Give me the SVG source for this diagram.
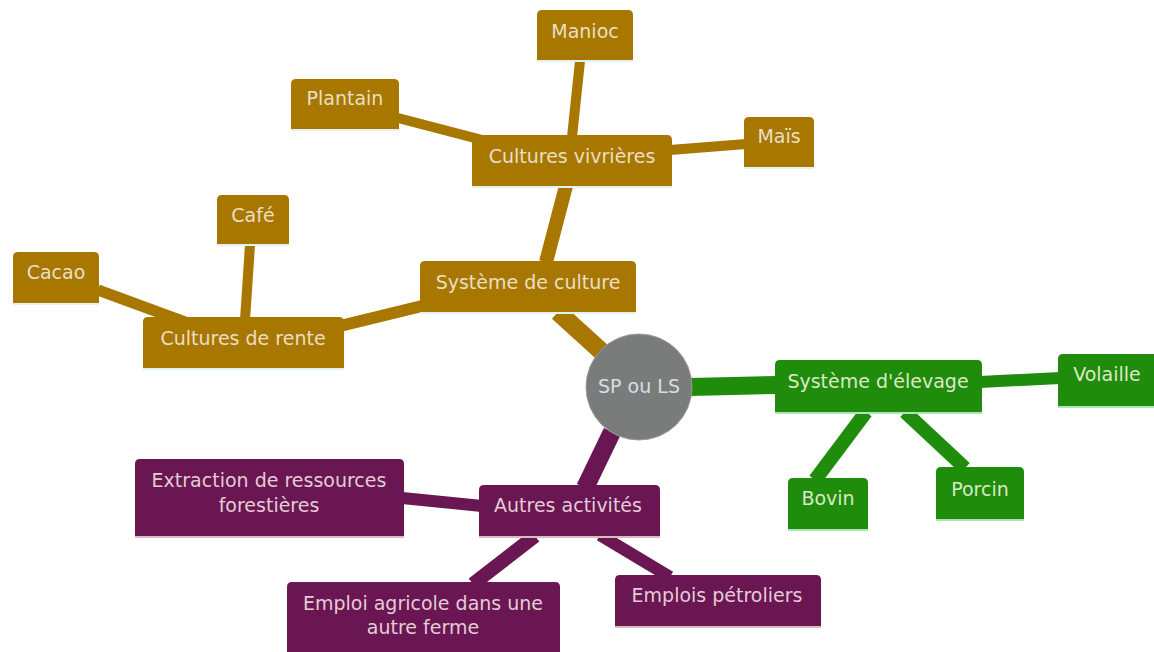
<svg xmlns="http://www.w3.org/2000/svg" width="1154" height="652" viewBox="0 0 1154 652">
<style>
.g{fill:#A87700}.v{fill:#1F8C0B}.p{fill:#6A1652}
.gs{fill:#E2F2F0}.vs{fill:#A8E8B4}.ps{fill:#D8BCC0}
.cg{stroke:#A87700;stroke-linecap:butt}.cv{stroke:#1F8C0B}.cp{stroke:#6A1652}
text{font-family:"DejaVu Sans",Verdana,sans-serif;font-size:19px;text-anchor:middle}
.tg{fill:#EADFC4}.tv{fill:#DDE8C4}.tp{fill:#E4CCD6}
</style>
<rect width="1154" height="652" fill="#ffffff"/>
<g id="connectors" fill="none">
<line class="cg" x1="602" y1="352" x2="558" y2="312" stroke-width="18"/>
<line class="cv" x1="690" y1="387" x2="778" y2="385" stroke-width="18"/>
<line class="cp" x1="612" y1="432" x2="585" y2="488" stroke-width="18"/>
<line class="cg" x1="546" y1="262" x2="566" y2="186" stroke-width="14"/>
<line class="cg" x1="422" y1="306" x2="340" y2="326" stroke-width="12"/>
<line class="cg" x1="98" y1="290" x2="185" y2="322" stroke-width="11"/>
<line class="cg" x1="250" y1="245" x2="245" y2="320" stroke-width="10"/>
<line class="cg" x1="398" y1="118" x2="490" y2="142" stroke-width="10"/>
<line class="cg" x1="580" y1="61" x2="572" y2="137" stroke-width="10"/>
<line class="cg" x1="670" y1="150" x2="746" y2="144" stroke-width="10"/>
<line class="cv" x1="980" y1="382" x2="1060" y2="378" stroke-width="12"/>
<line class="cv" x1="866" y1="412" x2="815" y2="480" stroke-width="14"/>
<line class="cv" x1="905" y1="412" x2="965" y2="468" stroke-width="14"/>
<line class="cp" x1="402" y1="498" x2="482" y2="506" stroke-width="12"/>
<line class="cp" x1="535" y1="536" x2="473" y2="584" stroke-width="14"/>
<line class="cp" x1="600" y1="535" x2="670" y2="577" stroke-width="12"/>
</g>
<g id="root">
<circle cx="639" cy="387" r="53" fill="#7A7C7C" stroke="#9A9C9C" stroke-width="1"/>
<text x="639" y="393" fill="#D6DEE4">SP ou LS</text>
</g>
<g id="manioc"><path class="g" d="M537 15Q537 10 542 10H628Q633 10 633 15V62H537Z"/><rect class="gs" x="537" y="60" width="96" height="2"/><text class="tg" x="585" y="38">Manioc</text></g>
<g id="plantain"><path class="g" d="M291 84Q291 79 296 79H394Q399 79 399 84V131H291Z"/><rect class="gs" x="291" y="129" width="108" height="2"/><text class="tg" x="345" y="105">Plantain</text></g>
<g id="mais"><path class="g" d="M744 122Q744 117 749 117H809Q814 117 814 122V169H744Z"/><rect class="gs" x="744" y="167" width="70" height="2"/><text class="tg" x="779" y="143">Maïs</text></g>
<g id="vivrieres"><path class="g" d="M472 140Q472 135 477 135H667Q672 135 672 140V188H472Z"/><rect class="gs" x="472" y="186" width="200" height="2"/><text class="tg" x="572" y="163">Cultures vivrières</text></g>
<g id="cafe"><path class="g" d="M217 200Q217 195 222 195H284Q289 195 289 200V246H217Z"/><rect class="gs" x="217" y="244" width="72" height="2"/><text class="tg" x="253" y="222">Café</text></g>
<g id="cacao"><path class="g" d="M13 257Q13 252 18 252H94Q99 252 99 257V305H13Z"/><rect class="gs" x="13" y="303" width="86" height="2"/><text class="tg" x="56" y="279">Cacao</text></g>
<g id="systeme-culture"><path class="g" d="M420 266Q420 261 425 261H631Q636 261 636 266V314H420Z"/><rect class="gs" x="420" y="312" width="216" height="2"/><text class="tg" x="528" y="289">Système de culture</text></g>
<g id="rente"><path class="g" d="M143 322Q143 317 148 317H339Q344 317 344 322V370H143Z"/><rect class="gs" x="143" y="368" width="201" height="2"/><text class="tg" x="243" y="345">Cultures de rente</text></g>
<g id="elevage"><path class="v" d="M775 365Q775 360 780 360H977Q982 360 982 365V414H775Z"/><rect class="vs" x="775" y="412" width="207" height="2"/><text class="tv" x="878" y="388">Système d'élevage</text></g>
<g id="volaille"><path class="v" d="M1058 359Q1058 354 1063 354H1160V408H1058Z"/><rect class="vs" x="1058" y="406" width="102" height="2"/><text class="tv" x="1107" y="381">Volaille</text></g>
<g id="bovin"><path class="v" d="M788 483Q788 478 793 478H863Q868 478 868 483V531H788Z"/><rect class="vs" x="788" y="529" width="80" height="2"/><text class="tv" x="828" y="505">Bovin</text></g>
<g id="porcin"><path class="v" d="M936 472Q936 467 941 467H1019Q1024 467 1024 472V521H936Z"/><rect class="vs" x="936" y="519" width="88" height="2"/><text class="tv" x="980" y="496">Porcin</text></g>
<g id="extraction"><path class="p" d="M135 464Q135 459 140 459H399Q404 459 404 464V538H135Z"/><rect class="ps" x="135" y="536" width="269" height="2"/><text class="tp" x="269" y="487">Extraction de ressources</text><text class="tp" x="269" y="512">forestières</text></g>
<g id="autres"><path class="p" d="M479 490Q479 485 484 485H655Q660 485 660 490V538H479Z"/><rect class="ps" x="479" y="536" width="181" height="2"/><text class="tp" x="568" y="512">Autres activités</text></g>
<g id="emploi-agricole"><path class="p" d="M287 587Q287 582 292 582H555Q560 582 560 587V660H287Z"/><text class="tp" x="423" y="610">Emploi agricole dans une</text><text class="tp" x="423" y="634">autre ferme</text></g>
<g id="petroliers"><path class="p" d="M615 580Q615 575 620 575H816Q821 575 821 580V628H615Z"/><rect class="ps" x="615" y="626" width="206" height="2"/><text class="tp" x="717" y="602">Emplois pétroliers</text></g>
</svg>
